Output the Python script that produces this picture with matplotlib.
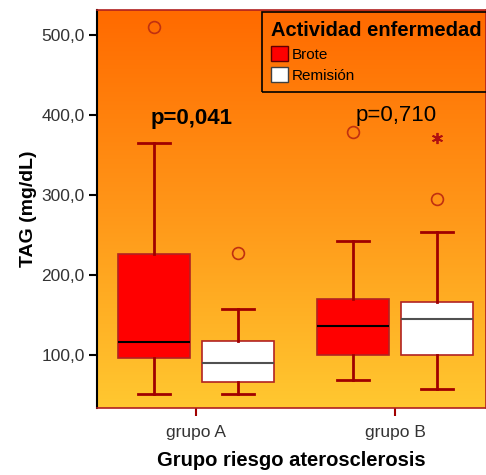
import matplotlib
matplotlib.use("Agg")
import matplotlib.pyplot as plt
import numpy as np
from matplotlib.patches import Patch
from matplotlib.ticker import FuncFormatter
from matplotlib.colors import LinearSegmentedColormap

plt.rcParams['font.family'] = ['Liberation Sans', 'DejaVu Sans']

groups = ["grupo A", "grupo B"]
series = ["Brote", "Remisión"]
# [whislo, q1, med, q3, whishi]
brote_stats = [[51, 96, 116, 226, 365], [69, 100, 136, 170, 243]]
remision_stats = [[51, 66, 90, 118, 158], [58, 100, 145, 166, 254]]
brote_outliers = [[510], [378]]
remision_outliers = [[228], [295]]
remision_extremes = [[], [371]]
p_labels = ["p=0,041", "p=0,710"]
p_bold = [True, False]
p_y = [395, 399]
yticks = [100, 200, 300, 400, 500]

fig = plt.figure(figsize=(4.86, 4.75), dpi=100)
ax = fig.add_axes([97/486, 67/475, 1 - 97/486, 398/475])
XL = (-0.4975, 1.457)
YL = (33.75, 531)
ax.set_xlim(*XL)
ax.set_ylim(*YL)

# gradient background
grad = np.linspace(0, 1, 256).reshape(-1, 1)
cmap = LinearSegmentedColormap.from_list("bg", ["#FFC830", "#FF9618", "#FF6A00"])
ax.imshow(grad, cmap=cmap, aspect='auto', extent=[XL[0], XL[1], YL[0], YL[1]],
          origin='lower', zorder=0)

offset = 0.21
width = 0.36
whisk_col = "#A00000"
edge_col = "#B22222"

def draw(stats_list, outl, extremes, dx, face, medcol):
    bxps = []
    for i, s in enumerate(stats_list):
        bxps.append(dict(whislo=s[0], q1=s[1], med=s[2], q3=s[3], whishi=s[4],
                         fliers=outl[i], label=groups[i]))
    pos = [i + dx for i in range(len(stats_list))]
    ax.bxp(bxps, positions=pos, widths=width, patch_artist=True, showfliers=True,
           boxprops=dict(facecolor=face, edgecolor=edge_col, linewidth=1.2),
           medianprops=dict(color=medcol, linewidth=1.5),
           whiskerprops=dict(color=whisk_col, linewidth=2),
           capprops=dict(color=whisk_col, linewidth=2),
           capwidths=width * 0.45,
           flierprops=dict(marker='o', markerfacecolor='none', markeredgecolor='#C03010',
                           markersize=8.5, markeredgewidth=1.2),
           manage_ticks=False, zorder=3)
    for i, ex in enumerate(extremes):
        for v in ex:
            ax.plot(i + dx, v, marker=(6, 2, 0), color='#B01010', markersize=8,
                    markeredgewidth=1.3, zorder=4, linestyle='none')

draw(brote_stats, brote_outliers, [[], []], -offset, "#FF0000", "#000000")
draw(remision_stats, remision_outliers, remision_extremes, offset, "#FFFFFF", "#505050")

p_dx = [-0.02, 0.005]
for i, (t, b) in enumerate(zip(p_labels, p_bold)):
    ax.text(i + p_dx[i], p_y[i], t, fontsize=16, fontweight='bold' if b else 'normal',
            ha='center', va='center', color='black', zorder=5)

ax.set_yticks(yticks)
ax.yaxis.set_major_formatter(FuncFormatter(lambda v, p: f"{v:.1f}".replace('.', ',')))
ax.set_xticks([0, 1])
ax.set_xticklabels(groups)
ax.tick_params(axis='y', direction='out', length=6, width=1.5, color='black',
               labelsize=12.5, labelcolor='#333333', pad=3)
ax.tick_params(axis='x', direction='out', length=6, width=1.5, color='#A00000',
               labelsize=12.5, labelcolor='#333333', pad=6)

for side in ['top', 'right', 'bottom']:
    ax.spines[side].set_color('#B02020')
    ax.spines[side].set_linewidth(1.2)
ax.spines['left'].set_color('black')
ax.spines['left'].set_linewidth(1.5)

ax.set_ylabel("TAG (mg/dL)", fontsize=14, fontweight='bold', labelpad=3)
ax.set_xlabel("Grupo riesgo aterosclerosis", fontsize=14.5, fontweight='bold', labelpad=8)

handles = [Patch(facecolor="#FF0000", edgecolor="#600000", label=series[0]),
           Patch(facecolor="#FFFFFF", edgecolor="#404040", label=series[1])]
ax_w = 389
ax_h = 398
leg = ax.legend(handles=handles, title="Actividad enfermedad", loc='upper left',
                bbox_to_anchor=((262 - 97) / ax_w, 1 - 2/ax_h, 260/ax_w, 0.0),
                mode='expand', fontsize=11,
                title_fontproperties=dict(weight='bold', size=14.5),
                frameon=True, fancybox=False, framealpha=1, borderpad=0.6,
                handlelength=1.1, handleheight=1.1, handletextpad=0.25,
                labelspacing=0.38, alignment='left', borderaxespad=0)
leg.get_frame().set_facecolor('none')
leg.get_frame().set_edgecolor('black')
leg.get_frame().set_linewidth(1.2)
leg.set_zorder(6)

fig.savefig("out.png", dpi=100)
